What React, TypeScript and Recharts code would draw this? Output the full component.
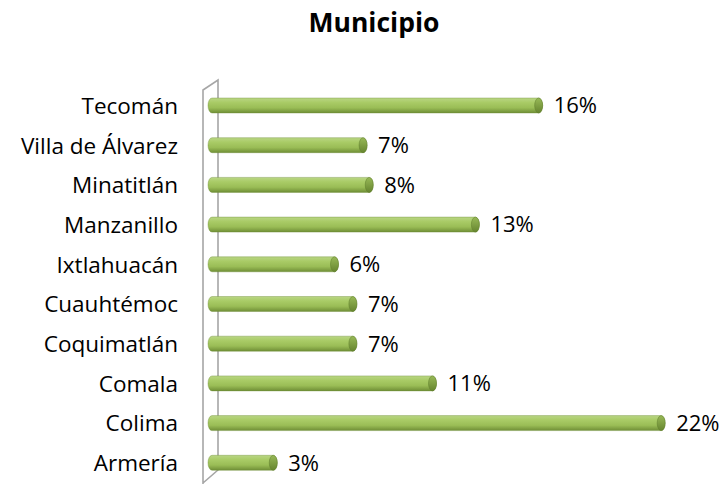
import React from 'react';
import * as R from 'recharts';

const { BarChart, Bar, XAxis, YAxis, LabelList, Customized } = R as any;

const municipios = [
  'Tecomán',
  'Villa de Álvarez',
  'Minatitlán',
  'Manzanillo',
  'Ixtlahuacán',
  'Cuauhtémoc',
  'Coquimatlán',
  'Comala',
  'Colima',
  'Armería',
];
const porcentajes = [16.0, 7.4, 7.7, 12.9, 6.0, 6.9, 6.9, 10.8, 22.0, 3.0];
const xDomain = [0, 24];
const titulo = 'Municipio';

const data = municipios.map((m, i) => ({ name: m, value: porcentajes[i] }));

const W = 722;
const H = 484;
const MARGIN = { top: 86, right: 20, bottom: 1, left: 0 };
const YAXIS_W = 212;
const FONT = '"Open Sans", Lato, sans-serif';

const CylBar = (props: any) => {
  const { x, y, width, height } = props;
  if (width == null || height == null) return null;
  const rx = 4;
  const ry = height / 2;
  const d = `M${x},${y} H${x + width} A${rx},${ry} 0 0 1 ${x + width},${y + height} H${x} A${rx},${ry} 0 0 1 ${x},${y} Z`;
  return (
    <g>
      <path d={d} fill="url(#cylBody)" stroke="#6f8d37" strokeWidth={0.4} />
      <ellipse cx={x + width} cy={y + ry} rx={rx} ry={ry} fill="url(#cylCap)" stroke="#5f7c2c" strokeWidth={0.5} />
    </g>
  );
};

const Wall = () => {
  const usePA = (R as any).usePlotArea || (() => null);
  const pa = usePA();
  const x0 = pa ? pa.x : YAXIS_W;
  const y0 = pa ? pa.y : MARGIN.top;
  const h = pa ? pa.height : H - MARGIN.top - MARGIN.bottom;
  const fx = x0 - 9;
  const bx = x0 + 6;
  const d = `M${fx},${y0 + h + 2} L${fx},${y0 + 4} L${bx},${y0 - 6} L${bx},${y0 + h - 13} L${fx},${y0 + h}`;
  return <path d={d} fill="none" stroke="#a6a6a6" strokeWidth={1.6} />;
};

const Title = () => (
  <text x={374} y={32} textAnchor="middle" fontFamily={FONT} fontWeight="bold" fontSize={26.5} fill="#000">
    {titulo}
  </text>
);

export default function App() {
  return (
    <div style={{ position: 'absolute', left: 0, top: 0, width: W, height: H, background: '#fff' }}>
      <BarChart width={W} height={H} data={data} layout="vertical" margin={MARGIN}>
        <defs>
          <linearGradient id="cylBody" x1="0" y1="0" x2="0" y2="1">
            <stop offset="0%" stopColor="#b9d684" />
            <stop offset="30%" stopColor="#a9cb66" />
            <stop offset="65%" stopColor="#9abd56" />
            <stop offset="100%" stopColor="#6f8e36" />
          </linearGradient>
          <linearGradient id="cylCap" x1="0" y1="0" x2="0" y2="1">
            <stop offset="0%" stopColor="#98b957" />
            <stop offset="100%" stopColor="#66852f" />
          </linearGradient>
        </defs>
        <Customized component={<Title />} />
        <Customized component={<Wall />} />
        <XAxis type="number" domain={xDomain} hide />
        <YAxis
          type="category"
          dataKey="name"
          width={YAXIS_W}
          axisLine={false}
          tickLine={false}
          tickSize={6}
          tickMargin={28}
          interval={0}
          tick={{ fontFamily: FONT, fontSize: 22.5, fill: '#000' }}
        />
        <Bar dataKey="value" barSize={15} isAnimationActive={false} shape={<CylBar />}>
          <LabelList
            dataKey="value"
            position="right"
            offset={15}
            formatter={(v: any) => `${Math.round(Number(v))}%`}
            style={{ fontFamily: FONT, fontSize: 22, fill: '#000' }}
          />
        </Bar>
      </BarChart>
    </div>
  );
}
